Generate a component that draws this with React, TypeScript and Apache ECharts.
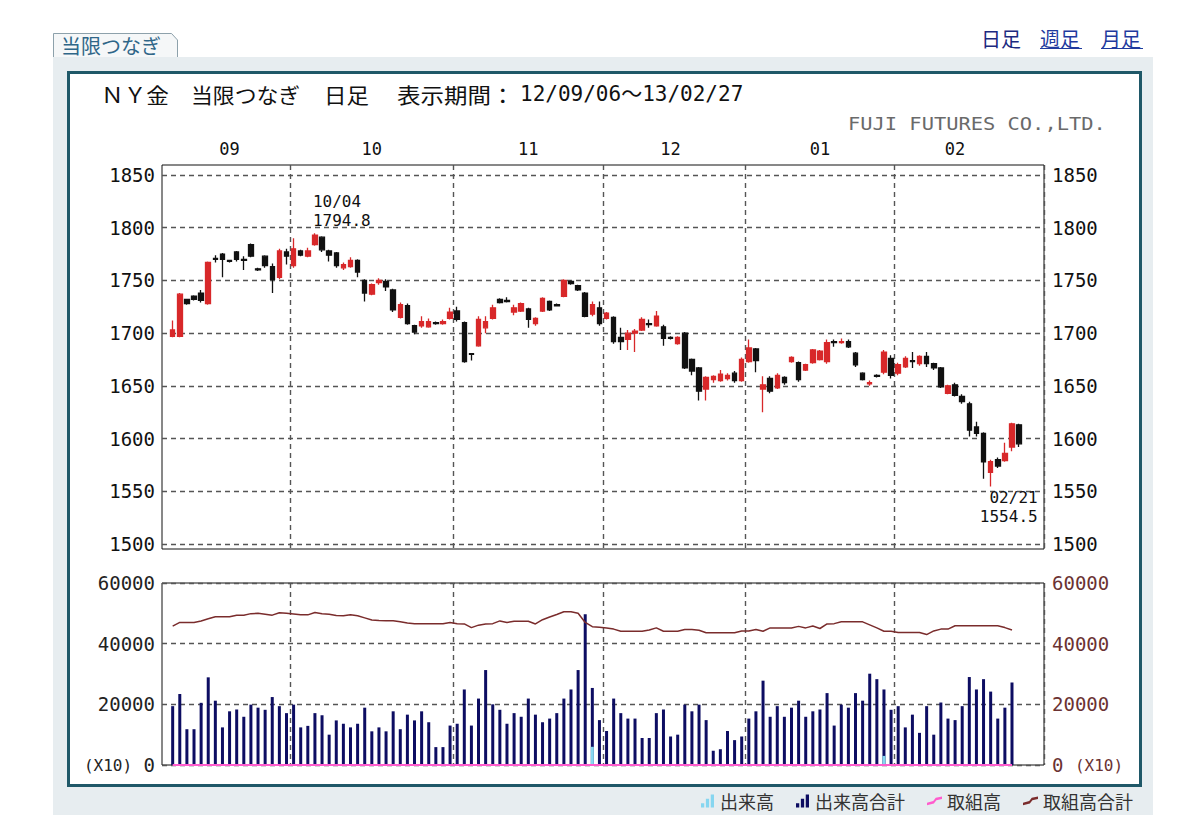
import React, { useEffect, useRef } from "react";
import * as echarts from "echarts";

// ---------- data ----------
const monthLabels = ["09", "10", "11", "12", "01", "02"];
const monthDays = [17, 23, 21, 20, 21, 18];

const priceMin = 1500;
const priceMax = 1850;
const priceStep = 50;
const volMin = 0;
const volMax = 60000;
const volStep = 20000;

// [open, close, low, high]
const ohlc: number[][] = [
  [1697, 1703, 1696, 1712], [1697, 1737, 1696, 1738], [1732, 1728, 1727, 1732], [1735, 1732, 1731, 1736],
  [1738, 1731, 1729, 1741], [1728, 1767, 1727, 1768], [1771, 1770, 1767, 1774], [1775, 1770, 1753, 1776],
  [1769, 1768, 1767, 1769], [1777, 1770, 1768, 1778], [1770, 1769, 1760, 1773], [1784, 1773, 1772, 1785],
  [1761, 1760, 1759, 1762], [1773, 1764, 1762, 1774], [1763, 1751, 1738, 1766], [1753, 1778, 1751, 1780],
  [1777, 1773, 1765, 1780], [1764, 1780, 1762, 1790], [1778, 1774, 1773, 1779], [1773, 1778, 1772, 1781],
  [1784, 1793, 1783, 1794.8], [1791, 1779, 1777, 1792], [1778, 1774, 1768, 1779], [1776, 1764, 1762, 1777],
  [1762, 1765, 1760, 1767], [1763, 1769, 1762, 1772], [1769, 1758, 1753, 1770], [1750, 1738, 1730, 1751],
  [1737, 1746, 1736, 1747], [1748, 1750, 1746, 1752], [1749, 1744, 1740, 1751], [1741, 1722, 1720, 1742],
  [1715, 1727, 1714, 1729], [1726, 1709, 1708, 1728], [1707, 1701, 1699, 1708], [1707, 1711, 1705, 1716],
  [1706, 1711, 1705, 1714], [1710, 1709, 1708, 1711], [1709, 1711, 1708, 1713], [1714, 1720, 1713, 1724],
  [1721, 1713, 1711, 1725], [1710, 1673, 1672, 1711], [1680.5, 1680, 1674, 1681], [1688, 1713, 1687, 1716],
  [1705, 1711, 1700, 1716], [1714, 1724, 1713, 1727], [1732, 1729, 1728, 1733], [1731, 1730, 1729, 1734],
  [1720, 1724, 1717, 1727], [1721, 1728, 1720, 1729], [1723, 1713, 1705, 1724], [1709, 1714, 1707, 1715],
  [1721, 1733, 1720, 1734], [1730, 1722, 1721, 1731], [1727, 1726, 1726, 1728], [1735, 1750, 1734, 1751],
  [1749, 1747, 1746, 1750], [1745, 1741, 1740, 1746], [1738, 1716, 1715, 1739], [1718, 1727, 1716, 1730],
  [1724, 1709, 1707, 1730], [1714, 1719, 1713, 1720], [1715, 1692, 1690, 1716], [1696, 1692, 1684, 1705],
  [1694, 1700, 1684, 1703], [1700, 1702, 1682, 1704], [1703, 1713, 1702, 1715], [1709, 1708, 1705, 1713],
  [1707, 1716, 1706, 1721], [1706, 1695, 1688, 1708], [1696, 1695, 1694, 1697], [1690, 1696, 1689, 1697],
  [1700, 1667, 1666, 1701], [1675, 1664, 1660, 1676], [1667, 1645, 1636, 1668], [1647, 1658, 1636, 1659],
  [1656, 1659, 1653, 1660], [1655, 1661, 1654, 1665], [1657, 1660, 1655, 1662], [1662, 1655, 1653, 1664],
  [1655, 1675, 1654, 1677], [1673, 1686, 1672, 1694], [1685, 1674, 1663, 1686], [1647, 1651, 1625, 1659],
  [1657, 1645, 1643, 1659], [1648, 1660, 1647, 1662], [1658, 1653, 1651, 1659], [1673, 1677, 1672, 1678],
  [1672, 1656, 1654, 1673], [1665, 1670, 1664, 1671], [1672, 1684, 1671, 1685], [1675, 1683, 1674, 1684],
  [1673, 1691, 1671, 1694], [1692, 1691, 1687, 1694], [1691, 1692, 1690, 1695], [1692, 1687, 1686, 1694],
  [1681, 1670, 1668, 1682], [1662, 1656, 1655, 1663], [1652, 1653, 1650, 1655], [1660, 1659, 1658, 1661],
  [1663, 1682, 1661, 1684], [1676, 1660, 1657, 1679], [1662, 1670, 1660, 1672], [1668, 1676, 1667, 1678],
  [1674, 1673, 1667, 1682], [1671, 1678, 1669, 1679], [1678, 1671, 1668, 1682], [1671, 1667, 1665, 1672],
  [1667, 1649, 1648, 1668], [1643, 1650, 1642, 1651], [1651, 1641, 1640, 1653], [1640, 1635, 1633, 1642],
  [1633, 1608, 1602, 1635], [1611, 1605, 1602, 1616], [1605, 1578, 1562, 1606], [1568, 1578, 1554.5, 1580],
  [1580, 1574, 1572, 1582], [1579, 1586, 1578, 1596], [1592, 1614, 1588, 1615], [1613, 1595, 1592, 1614],
];

// 出来高合計 (x10)
const volumeTotal = [
  19400, 23400, 11800, 11800, 20500, 28900, 21200, 12400, 17700, 18300,
  15900, 19900, 18900, 18200, 22400, 19400, 17100, 19900, 12400, 12900,
  17100, 16400, 10000, 14700, 13600, 12400, 13600, 18900, 11100, 12400,
  11100, 17700, 11800, 16600, 14700, 17700, 14100, 5900, 5900, 13000,
  13600, 24900, 13000, 21900, 31300, 20000, 18200, 13600, 17100, 15900,
  21900, 16600, 14100, 15300, 17100, 21900, 24900, 31300, 49700, 25400,
  14800, 11200, 21900, 17100, 15300, 15300, 8900, 8900, 17100, 18300,
  9400, 10000, 19900, 17700, 19900, 14800, 4700, 5200, 11200, 8200,
  9400, 15300, 17700, 27800, 15900, 19400, 15900, 18900, 21200, 15900,
  17700, 18300, 23700, 13000, 19900, 18900, 23700, 21200, 30100, 28300,
  24900, 18200, 19400, 12400, 16600, 10600, 19400, 10000, 20600, 15300,
  14800, 19400, 29000, 24900, 28300, 24200, 15300, 18900, 27200,
];

// 出来高 (当限) : [day number, value]
const volumeContract: number[][] = [[60, 6000], [101, 3000]];

// 取組高合計 (x10)
const openInterestTotal = [
  45800, 47000, 47000, 47000, 47500, 48200, 48900, 48900, 48900, 49400,
  49400, 49900, 50000, 49700, 49400, 50200, 50000, 49800, 49500, 49500,
  50300, 49900, 49700, 49300, 49200, 49500, 49200, 48500, 47800, 47600,
  47550, 47550, 47200, 46800, 46550, 46550, 46550, 46550, 46550, 47000,
  46600, 46500, 45300, 46100, 46500, 46600, 47500, 47000, 47400, 47400,
  47400, 46500, 47900, 48800, 49600, 50500, 50500, 50000, 47000, 45600,
  45400, 45200, 44800, 44100, 44100, 44100, 44100, 44500, 45200, 44100,
  44100, 44100, 44700, 44700, 44400, 43600, 43600, 43600, 43600, 43600,
  44200, 44200, 44700, 44100, 45200, 45200, 45200, 45200, 45700, 45200,
  45800, 45000, 46500, 46600, 47200, 47200, 47200, 47200, 46200, 45200,
  44100, 44100, 43700, 43700, 43700, 43700, 43000, 44200, 44800, 44800,
  45900, 45900, 45900, 45900, 45900, 45900, 45900, 45300, 44500,
];

// 取組高 (当限)
const openInterestContract = [
  0, 0, 0, 0, 0, 0, 0, 0, 0, 0, 0, 0, 0, 0, 0, 0, 0, 0, 0, 0,
  0, 0, 0, 0, 0, 0, 0, 0, 0, 0, 0, 0, 0, 0, 0, 0, 0, 0, 0, 0,
  0, 0, 0, 0, 0, 0, 0, 0, 0, 0, 0, 0, 0, 0, 0, 0, 0, 0, 0, 0,
  0, 0, 0, 0, 0, 0, 0, 0, 0, 0, 0, 0, 0, 0, 0, 0, 0, 0, 0, 0,
  0, 0, 0, 0, 0, 0, 0, 0, 0, 0, 0, 0, 0, 0, 0, 0, 0, 0, 0, 0,
  0, 0, 0, 0, 0, 0, 0, 0, 0, 0, 0, 0, 0, 0, 0, 0, 0, 0, 0,
];

const extremes = [
  { day: 21, date: "10/04", price: 1794.8 },
  { day: 116, date: "02/21", price: 1554.5 },
];

const titleParts = ["ＮＹ金", "当限つなぎ", "日足", "表示期間：", "12/09/06～13/02/27"];
const periodLinks = ["日足", "週足", "月足"];
const legendNames = ["出来高", "出来高合計", "取組高", "取組高合計"];

// ---------- layout ----------
const SLOTS = 124;
const MONO = "'DejaVu Sans Mono', 'Liberation Mono', monospace";
const MONO_JP = "'DejaVu Sans Mono', 'Noto Sans CJK JP', monospace";
const JP = "'Noto Sans CJK JP', 'Noto Sans', sans-serif";

const monthStarts: number[] = [];
{
  let s = 1;
  for (const d of monthDays) {
    monthStarts.push(s);
    s += d;
  }
}
const monthCenters = monthStarts.map((st, i) => st + Math.floor((monthDays[i] - 1) / 2));
const slotNames = Array.from({ length: SLOTS }, (_, i) => String(i));

const dashed = { type: [5, 4] as any, color: "#555", width: 1.4 };
const monthSplit = {
  show: true,
  interval: (i: number) => monthStarts.slice(1).includes(i),
  lineStyle: dashed,
};

const barIcon = "path://M0,12V8H3V12Z M4.5,12V4H7.5V12Z M9,12V0H12V12Z";
const lineIcon = "path://M0,9L5,7.5L7,5L12,4V6L7.5,7L5.5,9.5L0,11Z";

function buildOption(): any {
  // title segment layout: left x, font size, horizontal stretch
  const titleX = [101, 191, 324, 397, 520];
  const titleScale = [1.08, 1.04, 1.07, 1.12, 1.0];
  const linkX = [981, 1040, 1101];
  const graphic: any[] = [
    { type: "rect", z: -30, silent: true, shape: { x: 53, y: 57, width: 1100, height: 758 }, style: { fill: "#e7edf0" } },
    { type: "polygon", z: -29, silent: true, shape: { points: [[53, 57], [53, 33], [172, 33], [177, 40], [177, 57]] }, style: { fill: "#f5f7f8" } },
    { type: "polyline", z: -28, silent: true, shape: { points: [[53.5, 57], [53.5, 33.5], [171.5, 33.5], [177.5, 40], [177.5, 57]] }, style: { stroke: "#8da1ab", lineWidth: 1, fill: null } },
    { type: "rect", z: -27, silent: true, shape: { x: 68.5, y: 72.5, width: 1072, height: 713 }, style: { fill: "#ffffff", stroke: "#1f5868", lineWidth: 3 } },
    {
      type: "text", x: 61, y: 45, z: 5,
      style: { text: "当限つなぎ", font: `20px ${JP}`, fill: "#2f6688", align: "left", verticalAlign: "middle", textAlign: "left", textVerticalAlign: "middle" },
    },
    {
      type: "text", x: 848, y: 124, z: 5, scaleX: 1.2,
      style: { text: "FUJI FUTURES CO.,LTD.", font: `17px ${MONO}`, fill: "#6a6a6a", align: "left", verticalAlign: "middle", textAlign: "left", textVerticalAlign: "middle" },
    },
  ];
  titleParts.forEach((t, i) => {
    const isDigits = i === titleParts.length - 1;
    graphic.push({
      type: "text", x: titleX[i], y: 94, z: 5, scaleX: titleScale[i],
      style: {
        text: t,
        font: isDigits ? `21px ${MONO_JP}` : `21px ${JP}`,
        fill: "#111", align: "left", verticalAlign: "middle", textAlign: "left", textVerticalAlign: "middle",
      },
    });
  });
  periodLinks.forEach((t, i) => {
    graphic.push({
      type: "text", x: linkX[i], y: 38, z: 5,
      style: { text: t, font: `20px ${JP}`, fill: i === 0 ? "#1c2a80" : "#1f3a9e", align: "left", verticalAlign: "middle", textAlign: "left", textVerticalAlign: "middle" },
    });
    if (i > 0) {
      graphic.push({
        type: "line", z: 5, silent: true,
        shape: { x1: linkX[i], y1: 48.5, x2: linkX[i] + 42, y2: 48.5 },
        style: { stroke: "#1f3a9e", lineWidth: 1 },
      });
    }
  });

  const priceLabel = { margin: 7, fontFamily: MONO, fontSize: 19, color: "#111", formatter: (v: number) => String(v) };
  const volLabelBase = { margin: 7, fontFamily: MONO, fontSize: 19 };

  return {
    animation: false,
    backgroundColor: "#ffffff",
    graphic,
    legend: {
      right: 62,
      top: 787,
      itemWidth: 15,
      itemHeight: 13,
      itemGap: 22,
      selectedMode: false,
      textStyle: { fontFamily: JP, fontSize: 18, color: "#333" },
      data: legendNames.map((n, i) => ({ name: n, icon: i < 2 ? barIcon : lineIcon })),
    },
    grid: [
      { left: 162, right: 156, top: 165, height: 384, show: true, borderColor: "#111", borderWidth: 1, backgroundColor: "transparent" },
      { left: 162, right: 156, top: 175, height: 369 },
      { left: 162, right: 156, top: 583, height: 182, show: true, borderColor: "#111", borderWidth: 1, backgroundColor: "transparent" },
    ],
    xAxis: [
      {
        gridIndex: 0, type: "category", data: slotNames, position: "top", boundaryGap: true,
        axisLine: { show: false }, axisTick: { show: false },
        axisLabel: {
          interval: (i: number) => monthCenters.includes(i),
          formatter: (v: string) => {
            const m = monthCenters.indexOf(Number(v));
            return m >= 0 ? monthLabels[m] : "";
          },
          margin: 8, fontFamily: MONO, fontSize: 17, color: "#111",
        },
        splitLine: monthSplit,
      },
      { gridIndex: 1, type: "category", data: slotNames, boundaryGap: true, show: false },
      {
        gridIndex: 2, type: "category", data: slotNames, boundaryGap: true,
        axisLine: { show: false }, axisTick: { show: false }, axisLabel: { show: false },
        splitLine: monthSplit,
      },
    ],
    yAxis: [
      { gridIndex: 0, type: "value", show: false, min: 0, max: 1, splitLine: { show: false } },
      {
        gridIndex: 1, type: "value", position: "left", min: priceMin, max: priceMax, interval: priceStep,
        axisLine: { show: false }, axisTick: { show: false }, axisLabel: priceLabel,
        splitLine: { show: true, lineStyle: dashed },
      },
      {
        gridIndex: 1, type: "value", position: "right", min: priceMin, max: priceMax, interval: priceStep,
        axisLine: { show: false }, axisTick: { show: false }, axisLabel: { ...priceLabel, margin: 8 },
        splitLine: { show: false },
      },
      {
        gridIndex: 2, type: "value", position: "left", min: volMin, max: volMax, interval: volStep,
        axisLine: { show: false }, axisTick: { show: false },
        axisLabel: {
          ...volLabelBase, color: "#222",
          formatter: (v: number) => (v === 0 ? "{u|(X10)} 0" : String(v)),
          rich: { u: { fontFamily: MONO, fontSize: 16, color: "#222" } },
        },
        splitLine: { show: true, lineStyle: dashed },
      },
      {
        gridIndex: 2, type: "value", position: "right", min: volMin, max: volMax, interval: volStep,
        axisLine: { show: false }, axisTick: { show: false },
        axisLabel: {
          ...volLabelBase, margin: 8, color: "#6b3232",
          formatter: (v: number) => (v === 0 ? "0 {u|(X10)}" : String(v)),
          rich: { u: { fontFamily: MONO, fontSize: 16, color: "#6b3232" } },
        },
        splitLine: { show: false },
      },
    ],
    series: [
      {
        name: "NY金",
        type: "candlestick",
        xAxisIndex: 1,
        yAxisIndex: 1,
        barWidth: 5,
        encode: { x: 0, y: [1, 2, 3, 4] },
        data: ohlc.map((d, i) => [i + 1, ...d]),
        itemStyle: { color: "#d8282a", color0: "#111111", borderColor: "#d8282a", borderColor0: "#111111", borderWidth: 1.3 },
        markPoint: {
          symbol: "circle",
          symbolSize: 1,
          silent: true,
          itemStyle: { color: "rgba(0,0,0,0)" },
          label: { show: true, formatter: "{b}", fontFamily: MONO, fontSize: 16, lineHeight: 19, color: "#111" },
          data: extremes.map((e, i) => ({
            name: `${e.date}\n${e.price.toFixed(1)}`,
            coord: [e.day, e.price],
            label: i === 0
              ? { position: "top", align: "left", distance: 3, offset: [-2, 0] }
              : { position: "bottom", align: "right", distance: 1, offset: [47, 0] },
          })),
        },
      },
      {
        name: "出来高合計",
        type: "bar",
        xAxisIndex: 2,
        yAxisIndex: 3,
        barWidth: 3,
        barGap: "-100%",
        itemStyle: { color: "#0d0d62" },
        data: volumeTotal.map((v, i) => [i + 1, v]),
      },
      {
        name: "出来高",
        type: "bar",
        xAxisIndex: 2,
        yAxisIndex: 3,
        barWidth: 3,
        barGap: "-100%",
        itemStyle: { color: "#86d6f0" },
        data: volumeContract.map(([d, v]) => [d, v]),
      },
      {
        name: "取組高",
        type: "line",
        xAxisIndex: 2,
        yAxisIndex: 4,
        symbol: "none",
        itemStyle: { color: "#ff5ccd" },
        lineStyle: { color: "#ff5ccd", width: 2 },
        data: openInterestContract.map((v, i) => [i + 1, v]),
      },
      {
        name: "取組高合計",
        type: "line",
        xAxisIndex: 2,
        yAxisIndex: 4,
        symbol: "none",
        itemStyle: { color: "#7a2c2c" },
        lineStyle: { color: "#7a2c2c", width: 1.5 },
        data: openInterestTotal.map((v, i) => [i + 1, v]),
      },
    ],
  };
}

export default function App() {
  const ref = useRef<HTMLDivElement>(null);
  useEffect(() => {
    if (!ref.current) return;
    const chart = echarts.init(ref.current, undefined, { renderer: "svg" });
    chart.setOption(buildOption());
    return () => chart.dispose();
  }, []);
  return <div ref={ref} style={{ position: "fixed", left: 0, top: 0, width: 1200, height: 824 }} />;
}
